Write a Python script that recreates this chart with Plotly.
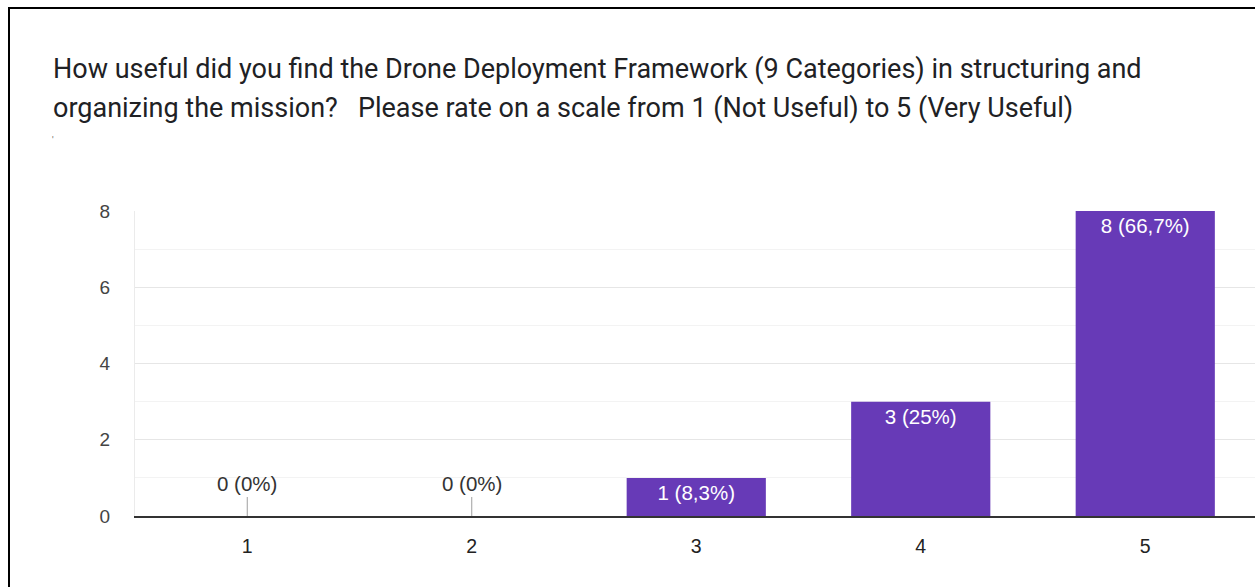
import plotly.graph_objects as go

# Survey responses: rating scale 1-5 and number of answers per rating
ratings = [1, 2, 3, 4, 5]
counts = [0, 0, 1, 3, 8]

title_lines = [
    "How useful did you find the Drone Deployment Framework (9 Categories) in structuring and",
    "organizing the mission?   Please rate on a scale from 1 (Not Useful) to 5 (Very Useful)",
]
y_ticks = [0, 2, 4, 6, 8]

total = sum(counts)


def fmt_label(n):
    pct = n / total * 100
    if abs(pct - round(pct)) < 1e-9:
        p = f"{int(round(pct))}"
    else:
        p = f"{pct:.1f}".replace(".", ",")
    return f"{n} ({p}%)"


labels = [fmt_label(n) for n in counts]

W, H = 1255, 587
ML, MR, MT, MB = 135, 0, 211, 71
plot_w = W - ML - MR
plot_h = H - MT - MB
cat_step = 224.5  # pixel distance between neighbouring categories

BAR = "#673ab7"
LABEL_FONT = "Liberation Sans, Arial, sans-serif"

fig = go.Figure(
    go.Bar(
        x=ratings,
        y=counts,
        width=0.62,
        marker=dict(color=BAR, line=dict(width=0)),
        text=[lab if n > 0 else "" for lab, n in zip(labels, counts)],
        textposition="inside",
        insidetextanchor="end",
        textangle=0,
        textfont=dict(color="white", size=20.5, family=LABEL_FONT),
        hoverinfo="skip",
    )
)

annotations = []
# zero-count categories get a stub line with the label above the axis
for r, n, lab in zip(ratings, counts, labels):
    if n == 0:
        annotations.append(
            dict(
                x=r, y=0, xref="x", yref="y",
                text=lab, showarrow=True, arrowhead=0, arrowwidth=1,
                arrowcolor="#9e9e9e", ax=0, ay=-19, yanchor="bottom",
                font=dict(size=20.5, color="#333333", family=LABEL_FONT),
            )
        )

# question title, two lines
for i, line in enumerate(title_lines):
    annotations.append(
        dict(
            x=51, y=69 + 39 * i, xref="paper", yref="paper", text=line,
            showarrow=False, xanchor="left", yanchor="middle",
            font=dict(size=27, color="#202124", family="Roboto, sans-serif"),
        )
    )
annotations.append(
    dict(x=53, y=140, xref="paper", yref="paper", text="'", showarrow=False,
         xanchor="center", yanchor="middle",
         font=dict(size=9, color="#555555", family="Roboto, sans-serif"))
)


def px_x(p):
    return (p - ML) / plot_w


def px_y(p):
    return (H - MB - p) / plot_h


for a in annotations:
    if a["xref"] == "paper":
        a["x"] = px_x(a["x"])
        a["y"] = px_y(a["y"])

# outer frame around the whole card
fig.add_shape(
    type="rect", xref="paper", yref="paper",
    x0=px_x(9), x1=px_x(W + 20), y0=px_y(H + 20), y1=px_y(8),
    line=dict(color="black", width=2), fillcolor="rgba(0,0,0,0)", layer="above",
)

fig.update_layout(
    width=W, height=H,
    margin=dict(l=ML, r=MR, t=MT, b=MB, pad=0),
    paper_bgcolor="white", plot_bgcolor="white",
    showlegend=False,
    annotations=annotations,
    bargap=0.38,
    xaxis=dict(
        range=[0.5, 0.5 + plot_w / cat_step],
        tickmode="array", tickvals=ratings, ticktext=[str(r) for r in ratings],
        showgrid=False, zeroline=False,
        showline=True, linecolor="#333333", linewidth=2,
        ticks="", ticklabelstandoff=12,
        tickfont=dict(size=19.5, color="#222222", family=LABEL_FONT),
        fixedrange=True,
    ),
    yaxis=dict(
        range=[0, 8],
        tickmode="array", tickvals=y_ticks, ticktext=[str(v) for v in y_ticks],
        showgrid=True, gridcolor="#e6e6e6", gridwidth=1,
        minor=dict(dtick=1, showgrid=True, gridcolor="#f3f3f3", gridwidth=1),
        zeroline=False,
        showline=True, linecolor="#ebebeb", linewidth=1,
        ticks="", ticklabelstandoff=20,
        tickfont=dict(size=19, color="#444444", family=LABEL_FONT),
        fixedrange=True,
    ),
)

fig.write_html("out.html", config={"displayModeBar": False})
